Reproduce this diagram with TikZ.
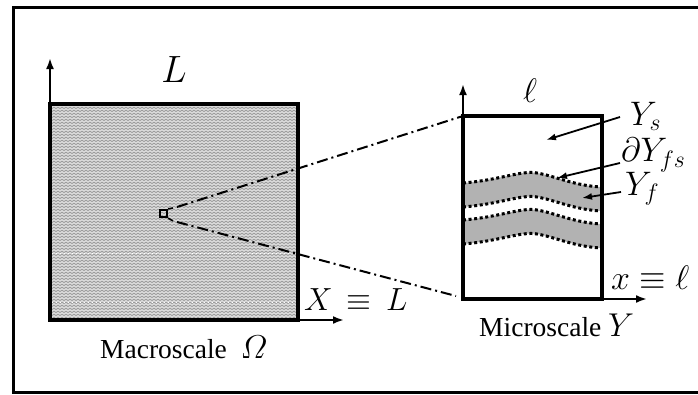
\RequirePackage{fix-cm}
\documentclass[tikz,border=0pt]{standalone}
\usepackage{fontspec}
\setmainfont{Liberation Serif}
\usetikzlibrary{arrows.meta,patterns}
\definecolor{texgray}{RGB}{218,218,218}
\definecolor{zigcol}{RGB}{150,150,150}
\definecolor{bandgray}{RGB}{178,178,178}
\pgfdeclarepatternformonly{zigzag}{\pgfpoint{-0.5pt}{-0.5pt}}{\pgfpoint{4.5pt}{3.5pt}}{\pgfpoint{4pt}{3pt}}{%
  \pgfsetlinewidth{0.7pt}%
  \pgfpathmoveto{\pgfpoint{0pt}{0.5pt}}%
  \pgfpathlineto{\pgfpoint{2pt}{1.8pt}}%
  \pgfpathlineto{\pgfpoint{4pt}{0.5pt}}%
  \pgfusepath{stroke}}
\tikzset{
  thickbox/.style={line width=3.4pt},
  axisarrow/.style={line width=2.2pt,-{Latex[length=11pt,width=8pt]}},
  ptr/.style={line width=1.8pt,-{Latex[length=10pt,width=7pt]}},
  dashdot/.style={line width=2pt,dash pattern=on 11pt off 4pt on 2pt off 4pt},
  bound/.style={line width=3pt,dash pattern=on 3pt off 2.6pt},
  bigm/.style={font=\fontsize{34}{40}\selectfont,inner sep=0pt},
  capt/.style={font=\fontsize{27.5}{32}\selectfont,inner sep=0pt},
}
\begin{document}
\begin{tikzpicture}[x=1pt,y=-1pt]
\useasboundingbox (0,0) rectangle (698,394);
% outer frame
\draw[line width=3pt] (705,7) -- (13,7) -- (13,392) -- (705,392);
% macro box
\coordinate (MA) at (50,104);
\coordinate (MB) at (298,320);
\fill[texgray] (MA) rectangle (MB);
\fill[pattern=zigzag,pattern color=zigcol] (MA) rectangle (MB);
\draw[white,line width=0.8pt,dash pattern=on 1pt off 3pt] (52,253) -- (296,253);
\draw[white,line width=0.8pt,dash pattern=on 1pt off 3pt] (52,302) -- (296,302);
\draw[thickbox] (MA) rectangle (MB);
\coordinate (MY) at (50,58);
\coordinate (MX) at (344,320);
\draw[axisarrow] (50,320) -- (MY);
\draw[axisarrow] (MB) -- (MX);
\node[font=\fontsize{38}{44}\selectfont,inner sep=0pt] (Lab) at (174,70) {$L$};
\node[font=\fontsize{32}{38}\selectfont,inner sep=0pt,anchor=west] (XL) at (304,300) {$X\,\equiv\,L$};
\node[capt,anchor=west] (macro) at (100,347) {Macroscale\ \ {\fontsize{33}{38}\selectfont$\mathnormal{\Omega}$}};
% small square (zoom marker)
\node[draw,line width=2.2pt,minimum size=7pt,inner sep=0pt] (sq) at (163.5,213.5) {};
\draw[line width=1.6pt] (sq.north east) -- (173,208);
\draw[line width=1.6pt] (sq.south east) -- (173,221);
\coordinate (d1) at (177,207);
\coordinate (d2) at (177,222);
% micro box
\coordinate (mA) at (463,116);
\coordinate (mB) at (602,299);
% bands
\fill[bandgray] (463,183) .. controls (500,180) and (522,170) .. (537,173) .. controls (555,176) and (575,186) .. (602,187)
  -- (602,211) .. controls (575,210) and (555,200) .. (537,197) .. controls (522,194) and (500,204) .. (463,207) -- cycle;
\fill[bandgray] (463,220) .. controls (500,217) and (522,207) .. (537,210) .. controls (555,213) and (575,223) .. (602,224)
  -- (602,248) .. controls (575,247) and (555,237) .. (537,234) .. controls (522,231) and (500,241) .. (463,244) -- cycle;
\foreach \dy in {0,24,37,61}{
  \draw[bound] (463,183+\dy) .. controls (500,180+\dy) and (522,170+\dy) .. (537,173+\dy) .. controls (555,176+\dy) and (575,186+\dy) .. (602,187+\dy);
}
\draw[thickbox] (mA) rectangle (mB);
\coordinate (mY) at (463,84);
\coordinate (mX) at (647,299);
\draw[axisarrow] (mA) -- (mY);
\draw[axisarrow] (mB) -- (mX);
% dash-dot connectors
\draw[dashdot] (d1) -- (mA);
\draw[dashdot] (d2) -- (456,296);
% labels micro
\node[bigm] (ell) at (530,91) {$\ell$};
\node[bigm,anchor=west] (Ys) at (630,116) {$Y_s$};
\node[bigm,anchor=west] (dY) at (621,155) {$\partial Y_{fs}$};
\node[bigm,anchor=west] (Yf) at (625,189) {$Y_f$};
\node[bigm,anchor=west] (xl) at (611,278) {$x\equiv \ell$};
\node[capt,anchor=west] (micro) at (479,325) {Microscale {\fontsize{33}{38}\selectfont$Y$}};
\coordinate (pYs) at (546,140);
\coordinate (pdY) at (557,178);
\coordinate (pYf) at (582,198);
\draw[ptr] (620,117) -- (pYs);
\draw[ptr] (620,163) -- (pdY);
\draw[ptr] (621,192) -- (pYf);
\end{tikzpicture}
\end{document}
